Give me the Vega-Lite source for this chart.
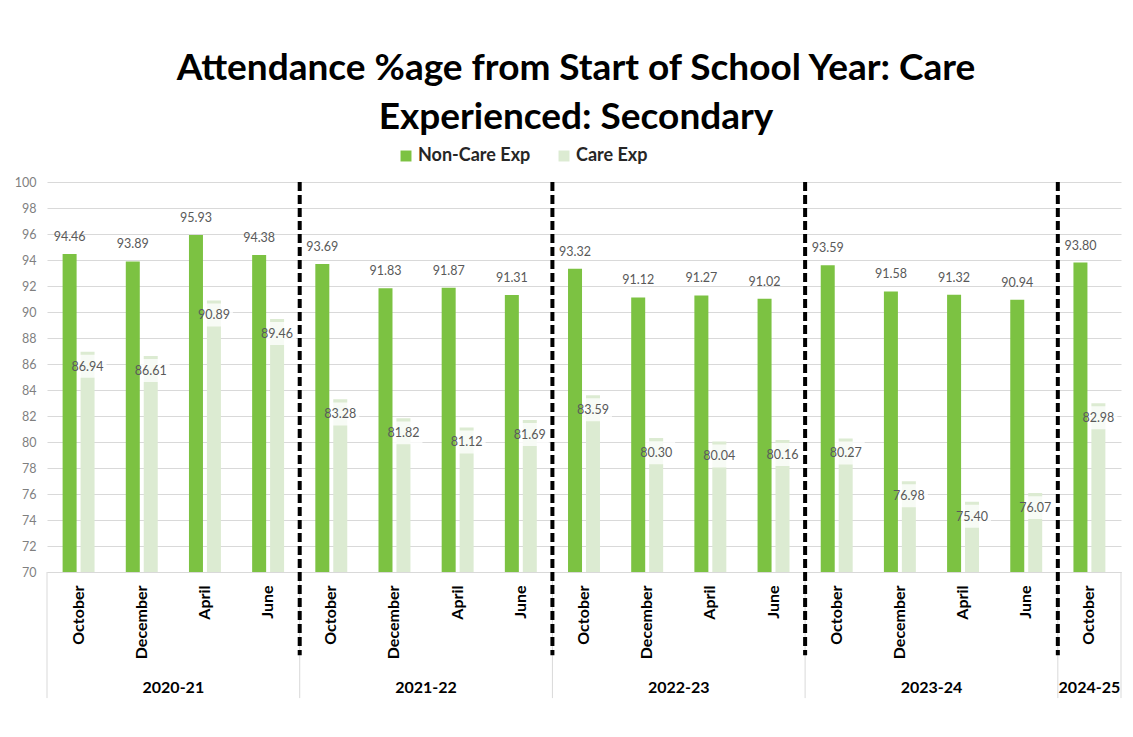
{
  "$schema": "https://vega.github.io/schema/vega-lite/v6.json",
  "width": 1074,
  "height": 390,
  "autosize": {"type": "none"},
  "padding": {"left": 47, "top": 182, "right": 12, "bottom": 165},
  "background": "white",
  "config": {"view": {"stroke": null}, "font": "Lato"},
  "title": {
    "text": ["Attendance %age from Start of School Year: Care", "Experienced: Secondary"],
    "font": "Lato", "fontSize": 37, "fontWeight": "bold", "color": "#000000",
    "lineHeight": 49, "anchor": "middle", "frame": "group", "offset": 10, "dx": -8
  },
  "data": {"values": [
    {"year": "2020-21", "month": "October", "period": "2020-21 October", "series": "Non-Care Exp", "value": 94.46},
    {"year": "2020-21", "month": "October", "period": "2020-21 October", "series": "Care Exp", "value": 86.94},
    {"year": "2020-21", "month": "December", "period": "2020-21 December", "series": "Non-Care Exp", "value": 93.89},
    {"year": "2020-21", "month": "December", "period": "2020-21 December", "series": "Care Exp", "value": 86.61},
    {"year": "2020-21", "month": "April", "period": "2020-21 April", "series": "Non-Care Exp", "value": 95.93},
    {"year": "2020-21", "month": "April", "period": "2020-21 April", "series": "Care Exp", "value": 90.89},
    {"year": "2020-21", "month": "June", "period": "2020-21 June", "series": "Non-Care Exp", "value": 94.38},
    {"year": "2020-21", "month": "June", "period": "2020-21 June", "series": "Care Exp", "value": 89.46},
    {"year": "2021-22", "month": "October", "period": "2021-22 October", "series": "Non-Care Exp", "value": 93.69},
    {"year": "2021-22", "month": "October", "period": "2021-22 October", "series": "Care Exp", "value": 83.28},
    {"year": "2021-22", "month": "December", "period": "2021-22 December", "series": "Non-Care Exp", "value": 91.83},
    {"year": "2021-22", "month": "December", "period": "2021-22 December", "series": "Care Exp", "value": 81.82},
    {"year": "2021-22", "month": "April", "period": "2021-22 April", "series": "Non-Care Exp", "value": 91.87},
    {"year": "2021-22", "month": "April", "period": "2021-22 April", "series": "Care Exp", "value": 81.12},
    {"year": "2021-22", "month": "June", "period": "2021-22 June", "series": "Non-Care Exp", "value": 91.31},
    {"year": "2021-22", "month": "June", "period": "2021-22 June", "series": "Care Exp", "value": 81.69},
    {"year": "2022-23", "month": "October", "period": "2022-23 October", "series": "Non-Care Exp", "value": 93.32},
    {"year": "2022-23", "month": "October", "period": "2022-23 October", "series": "Care Exp", "value": 83.59},
    {"year": "2022-23", "month": "December", "period": "2022-23 December", "series": "Non-Care Exp", "value": 91.12},
    {"year": "2022-23", "month": "December", "period": "2022-23 December", "series": "Care Exp", "value": 80.30},
    {"year": "2022-23", "month": "April", "period": "2022-23 April", "series": "Non-Care Exp", "value": 91.27},
    {"year": "2022-23", "month": "April", "period": "2022-23 April", "series": "Care Exp", "value": 80.04},
    {"year": "2022-23", "month": "June", "period": "2022-23 June", "series": "Non-Care Exp", "value": 91.02},
    {"year": "2022-23", "month": "June", "period": "2022-23 June", "series": "Care Exp", "value": 80.16},
    {"year": "2023-24", "month": "October", "period": "2023-24 October", "series": "Non-Care Exp", "value": 93.59},
    {"year": "2023-24", "month": "October", "period": "2023-24 October", "series": "Care Exp", "value": 80.27},
    {"year": "2023-24", "month": "December", "period": "2023-24 December", "series": "Non-Care Exp", "value": 91.58},
    {"year": "2023-24", "month": "December", "period": "2023-24 December", "series": "Care Exp", "value": 76.98},
    {"year": "2023-24", "month": "April", "period": "2023-24 April", "series": "Non-Care Exp", "value": 91.32},
    {"year": "2023-24", "month": "April", "period": "2023-24 April", "series": "Care Exp", "value": 75.40},
    {"year": "2023-24", "month": "June", "period": "2023-24 June", "series": "Non-Care Exp", "value": 90.94},
    {"year": "2023-24", "month": "June", "period": "2023-24 June", "series": "Care Exp", "value": 76.07},
    {"year": "2024-25", "month": "October", "period": "2024-25 October", "series": "Non-Care Exp", "value": 93.80},
    {"year": "2024-25", "month": "October", "period": "2024-25 October", "series": "Care Exp", "value": 82.98}
  ]},
  "encoding": {
    "x": {
      "field": "period", "type": "nominal",
      "scale": {
        "domain": ["2020-21 October", "2020-21 December", "2020-21 April", "2020-21 June",
                   "2021-22 October", "2021-22 December", "2021-22 April", "2021-22 June",
                   "2022-23 October", "2022-23 December", "2022-23 April", "2022-23 June",
                   "2023-24 October", "2023-24 December", "2023-24 April", "2023-24 June",
                   "2024-25 October"],
        "paddingInner": 0, "paddingOuter": 0
      },
      "axis": {
        "title": null, "labelExpr": "split(datum.value, ' ')[1]",
        "labelAngle": 270, "labelAlign": "right", "labelBaseline": "middle",
        "labelPadding": 13, "ticks": false, "domainColor": "#d9d9d9", "domainWidth": 1,
        "labelFont": "Lato", "labelFontWeight": "bold", "labelFontSize": 16, "labelColor": "#000000",
        "grid": false
      }
    },
    "y": {
      "field": "value", "type": "quantitative",
      "scale": {"domain": [70, 100], "nice": false, "zero": false},
      "axis": {
        "title": null, "values": [70, 72, 74, 76, 78, 80, 82, 84, 86, 88, 90, 92, 94, 96, 98, 100],
        "grid": true, "gridColor": "#d9d9d9", "gridWidth": 1, "domain": false, "ticks": false,
        "labelPadding": 11, "labelFont": "Lato", "labelFontSize": 12.5, "labelColor": "#7f7f7f"
      }
    },
    "xOffset": {
      "field": "series", "type": "nominal",
      "scale": {"domain": ["Non-Care Exp", "Care Exp"], "paddingInner": 0.22, "paddingOuter": 0.87}
    }
  },
  "layer": [
    {
      "transform": [{"filter": "datum.series == 'Care Exp'"}],
      "mark": {"type": "bar"},
      "encoding": {
        "y2": {"datum": 70},
        "color": {
          "field": "series", "type": "nominal",
          "scale": {"domain": ["Non-Care Exp", "Care Exp"], "range": ["#7cc242", "#dcebd2"]},
          "legend": {
            "title": null, "orient": "none", "legendX": 350, "legendY": -35, "direction": "horizontal",
            "symbolType": "square", "symbolSize": 120, "symbolStrokeWidth": 0,
            "labelFont": "Lato", "labelFontSize": 18, "labelFontWeight": "bold", "labelColor": "#262626",
            "columnPadding": 24, "labelOffset": 3
          }
        }
      }
    },
    {
      "transform": [{"filter": "datum.series == 'Care Exp'"}],
      "mark": {"type": "point", "shape": "M-1,0.16H1V1.37H-1Z", "size": 1444, "filled": true, "fill": "#ffffff", "opacity": 0.78, "strokeWidth": 0}
    },
    {
      "transform": [{"filter": "datum.series == 'Non-Care Exp'"}],
      "mark": {"type": "bar"},
      "encoding": {
        "y2": {"datum": 70},
        "color": {"field": "series", "type": "nominal"}
      }
    },
    {
      "transform": [{"filter": "datum.month == 'October' && datum.series == 'Non-Care Exp'"}],
      "mark": {"type": "rule", "color": "#d9d9d9", "strokeWidth": 1},
      "encoding": {
        "x": {"field": "period", "type": "nominal", "bandPosition": 0},
        "xOffset": null,
        "y": {"datum": 70, "type": "quantitative"},
        "y2": {"datum": 60.3}
      }
    },
    {
      "transform": [{"filter": "datum.year == '2024-25' && datum.series == 'Non-Care Exp'"}],
      "mark": {"type": "rule", "color": "#d9d9d9", "strokeWidth": 1},
      "encoding": {
        "x": {"field": "period", "type": "nominal", "bandPosition": 1},
        "xOffset": null,
        "y": {"datum": 70, "type": "quantitative"},
        "y2": {"datum": 60.3}
      }
    },
    {
      "transform": [{"filter": "datum.month == 'October' && datum.year != '2020-21' && datum.series == 'Non-Care Exp'"}],
      "mark": {"type": "rule", "color": "#000000", "strokeWidth": 4, "strokeDash": [9, 4]},
      "encoding": {
        "x": {"field": "period", "type": "nominal", "bandPosition": 0},
        "xOffset": null,
        "y": {"datum": 100, "type": "quantitative"},
        "y2": {"datum": 63.6}
      }
    },
    {
      "transform": [{"filter": "datum.series == 'Non-Care Exp'"}],
      "mark": {"type": "text", "baseline": "middle", "dy": -17, "font": "Lato", "fontSize": 12.5, "color": "#595959"},
      "encoding": {"text": {"field": "value", "type": "quantitative", "format": ".2f"}}
    },
    {
      "transform": [{"filter": "datum.series == 'Care Exp'"}],
      "mark": {"type": "text", "baseline": "middle", "dy": 15, "font": "Lato", "fontSize": 12.5, "color": "#595959"},
      "encoding": {"text": {"field": "value", "type": "quantitative", "format": ".2f"}}
    },
    {
      "transform": [{"filter": "datum.month == 'April' && datum.series == 'Non-Care Exp'"}],
      "mark": {"type": "text", "baseline": "middle", "font": "Lato", "fontSize": 16, "fontWeight": "bold", "color": "#000000"},
      "encoding": {
        "x": {"field": "period", "type": "nominal", "bandPosition": 0},
        "xOffset": null,
        "y": {"datum": 61.08, "type": "quantitative"},
        "text": {"field": "year"}
      }
    },
    {
      "transform": [{"filter": "datum.year == '2024-25' && datum.series == 'Non-Care Exp'"}],
      "mark": {"type": "text", "baseline": "middle", "font": "Lato", "fontSize": 16, "fontWeight": "bold", "color": "#000000"},
      "encoding": {
        "x": {"field": "period", "type": "nominal", "bandPosition": 0.5},
        "xOffset": null,
        "y": {"datum": 61.08, "type": "quantitative"},
        "text": {"field": "year"}
      }
    }
  ]
}
